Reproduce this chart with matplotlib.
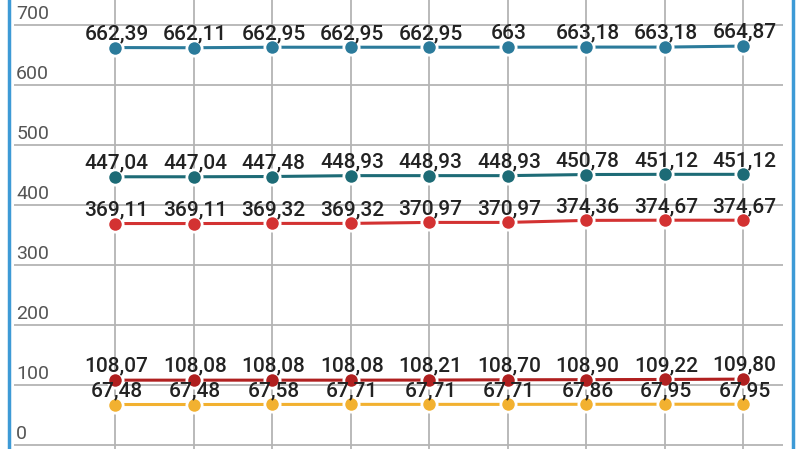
import matplotlib.pyplot as plt
from matplotlib.lines import Line2D

plt.rcParams['font.family'] = ['Roboto', 'DejaVu Sans']

x_idx = list(range(9))
s1 = [662.39, 662.11, 662.95, 662.95, 662.95, 663, 663.18, 663.18, 664.87]
s2 = [447.04, 447.04, 447.48, 448.93, 448.93, 448.93, 450.78, 451.12, 451.12]
s3 = [369.11, 369.11, 369.32, 369.32, 370.97, 370.97, 374.36, 374.67, 374.67]
s4 = [108.07, 108.08, 108.08, 108.08, 108.21, 108.70, 108.90, 109.22, 109.80]
s5 = [67.48, 67.48, 67.58, 67.71, 67.71, 67.71, 67.86, 67.95, 67.95]
series = [s1, s2, s3, s4, s5]
colors = ['#2b7b9b', '#1d6b76', '#d33232', '#b02020', '#f2b130']
y_ticks = [0, 100, 200, 300, 400, 500, 600, 700]


def fmt(v):
    if float(v).is_integer():
        return str(int(v))
    return ('%.2f' % v).replace('.', ',')


fig = plt.figure(figsize=(8, 4.49), dpi=100)
ax = fig.add_axes([14 / 800, 0, (783 - 14) / 800, 1])
ax.set_xlim((14 - 115) / 78.5, (783 - 115) / 78.5)
ax.set_ylim(-6.67, 741.67)

for t in y_ticks:
    ax.axhline(t, color='#b4b4b4', lw=1.3, zorder=1)
    ax.text(-1.26, t + 4, str(t), fontsize=14, color='#555555',
            ha='left', va='bottom')
for i in x_idx:
    ax.axvline(i, color='#b4b4b4', lw=1.3, zorder=1)

for vals, c in zip(series, colors):
    ax.plot(x_idx, vals, color=c, lw=2.2, marker='o', ms=11,
            mfc=c, mec='white', mew=2, zorder=3)
    for i, v in zip(x_idx, vals):
        ax.text(i + 0.02, v + 23, fmt(v), fontsize=15, color='#222222',
                fontweight='medium', ha='center', va='center', zorder=4)

ax.axis('off')

fig.add_artist(Line2D([8.5 / 800, 8.5 / 800], [0, 1], color='#3d9ad6', lw=2.5))
fig.add_artist(Line2D([792.5 / 800, 792.5 / 800], [0, 1], color='#3d9ad6', lw=2.5))

fig.savefig('out.png', dpi=100)
